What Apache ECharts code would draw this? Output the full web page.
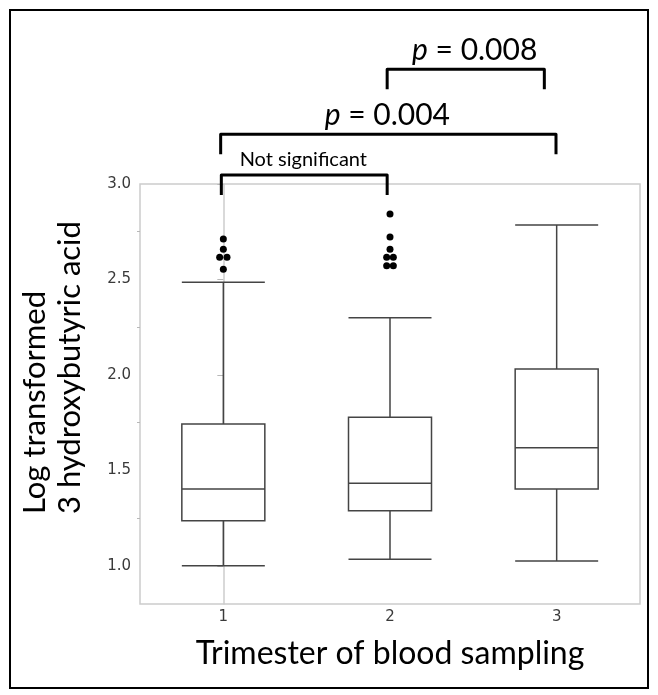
<!DOCTYPE html>
<html>
<head>
<meta charset="utf-8">
<script src="https://cdn.jsdelivr.net/npm/echarts@6/dist/echarts.min.js"></script>
<style>
  html, body { margin: 0; padding: 0; background: #fff; }
  #chart { width: 658px; height: 695px; }
</style>
</head>
<body>
<div id="chart"></div>
<script>
// trimester groups
var categories = ['1', '2', '3'];
// [min, Q1, median, Q3, max]
var boxValues = [
    [1.00, 1.236, 1.402, 1.743, 2.485],
    [1.034, 1.289, 1.432, 1.778, 2.300],
    [1.025, 1.402, 1.619, 2.031, 2.785]
];
// outliers: [group position (with small jitter), value]
var outliers = [
    [0, 2.712], [0, 2.658], [-0.022, 2.616], [0.022, 2.616], [0, 2.553],
    [1, 2.843], [1, 2.722], [1, 2.658], [0.98, 2.616], [1.02, 2.616],
    [0.98, 2.572], [1.02, 2.572]
];
var yTicks = [1.0, 1.5, 2.0, 2.5, 3.0];
var yMinorTicks = [1.25, 1.75, 2.25, 2.75];
// significance brackets: [x start, x end, top, leg bottom]
var brackets = [
    [0.983, 1.926, 3.601, 3.496],
    [-0.016, 1.996, 3.260, 3.156],
    [-0.012, 0.983, 3.047, 2.943]
];
// bracket labels: [x, y, text, size]
var bracketLabels = [
    [1.508, 3.698, '{i|p} = 0.008', 'big'],
    [0.984, 3.359, '{i|p} = 0.004', 'big'],
    [0.48, 3.130, 'Not significant', 'small']
];

var chart = echarts.init(document.getElementById('chart'));

var option = {
    animation: false,
    backgroundColor: '#fff',
    grid: {
        left: 140,
        right: 18,
        top: 184,
        bottom: 91,
        containLabel: false,
        outerBoundsMode: 'none',
        show: true,
        borderColor: '#cccccc',
        borderWidth: 1.5
    },
    xAxis: [{
        type: 'category',
        data: categories,
        boundaryGap: true,
        axisLine: { show: false },
        axisTick: { show: false },
        axisLabel: {
            color: '#3a3a3a',
            fontFamily: 'DejaVu Sans',
            fontSize: 15,
            margin: 6
        },
        splitLine: { show: false },
        name: 'Trimester of blood sampling',
        nameLocation: 'middle',
        nameGap: 34,
        nameTextStyle: {
            color: '#000',
            fontFamily: 'Lato',
            fontSize: 32
        }
    }, {
        type: 'value',
        min: -0.5,
        max: 2.5,
        show: false
    }],
    yAxis: [{
        type: 'value',
        min: 0.8,
        max: 3.0,
        interval: 0.1,
        axisLine: { show: true, lineStyle: { color: '#cccccc', width: 1.5 } },
        axisTick: {
            show: true,
            length: 6,
            lineStyle: { color: '#b8b8b8', width: 1 },
            customValues: yTicks
        },
        axisLabel: {
            color: '#3a3a3a',
            fontFamily: 'DejaVu Sans',
            fontSize: 15,
            margin: 9,
            customValues: yTicks,
            formatter: function (v) { return v.toFixed(1); }
        },
        splitLine: { show: false }
    }, {
        type: 'value',
        position: 'left',
        min: 0.8,
        max: 3.0,
        axisLine: { show: false },
        axisTick: {
            show: true,
            length: 3,
            lineStyle: { color: '#b8b8b8', width: 1 },
            customValues: yMinorTicks
        },
        axisLabel: { show: false },
        splitLine: { show: false }
    }],
    graphic: [{
        type: 'rect',
        shape: { x: 10, y: 10, width: 638, height: 678 },
        style: { fill: 'none', stroke: '#000', lineWidth: 2 },
        silent: true
    }, {
        type: 'text',
        x: 35,
        y: 514,
        rotation: Math.PI / 2,
        style: {
            text: 'Log transformed',
            align: 'left',
            verticalAlign: 'middle',
            fill: '#000',
            font: '31px Lato'
        }
    }, {
        type: 'text',
        x: 70,
        y: 514,
        rotation: Math.PI / 2,
        style: {
            text: '3 hydroxybutyric acid',
            align: 'left',
            verticalAlign: 'middle',
            fill: '#000',
            font: '31px Lato'
        }
    }],
    series: [{
        type: 'boxplot',
        data: boxValues,
        boxWidth: [83, 83],
        itemStyle: {
            color: '#fff',
            borderColor: '#444',
            borderWidth: 1.5
        }
    }, {
        type: 'scatter',
        xAxisIndex: 1,
        data: outliers,
        symbolSize: 7,
        itemStyle: { color: '#000', opacity: 1 }
    }, {
        type: 'custom',
        xAxisIndex: 1,
        clip: false,
        data: brackets,
        renderItem: function (params, api) {
            var a = api.coord([api.value(0), api.value(3)]);
            var b = api.coord([api.value(0), api.value(2)]);
            var c = api.coord([api.value(1), api.value(2)]);
            var d = api.coord([api.value(1), api.value(3)]);
            return {
                type: 'polyline',
                shape: { points: [a, b, c, d] },
                style: { fill: null, stroke: '#000', lineWidth: 3, lineJoin: 'round' }
            };
        }
    }, {
        type: 'custom',
        xAxisIndex: 1,
        clip: false,
        data: bracketLabels,
        renderItem: function (params, api) {
            var p = api.coord([api.value(0), api.value(1)]);
            var item = bracketLabels[params.dataIndex];
            var size = item[3] === 'big' ? 30 : 20;
            return {
                type: 'text',
                x: p[0],
                y: p[1],
                style: {
                    text: item[2],
                    align: 'center',
                    verticalAlign: 'middle',
                    fill: '#000',
                    fontFamily: 'Lato',
                    fontSize: size,
                    rich: {
                        i: { fontStyle: 'italic', fontFamily: 'Lato', fontSize: size }
                    }
                }
            };
        }
    }]
};

chart.setOption(option);
</script>
</body>
</html>
